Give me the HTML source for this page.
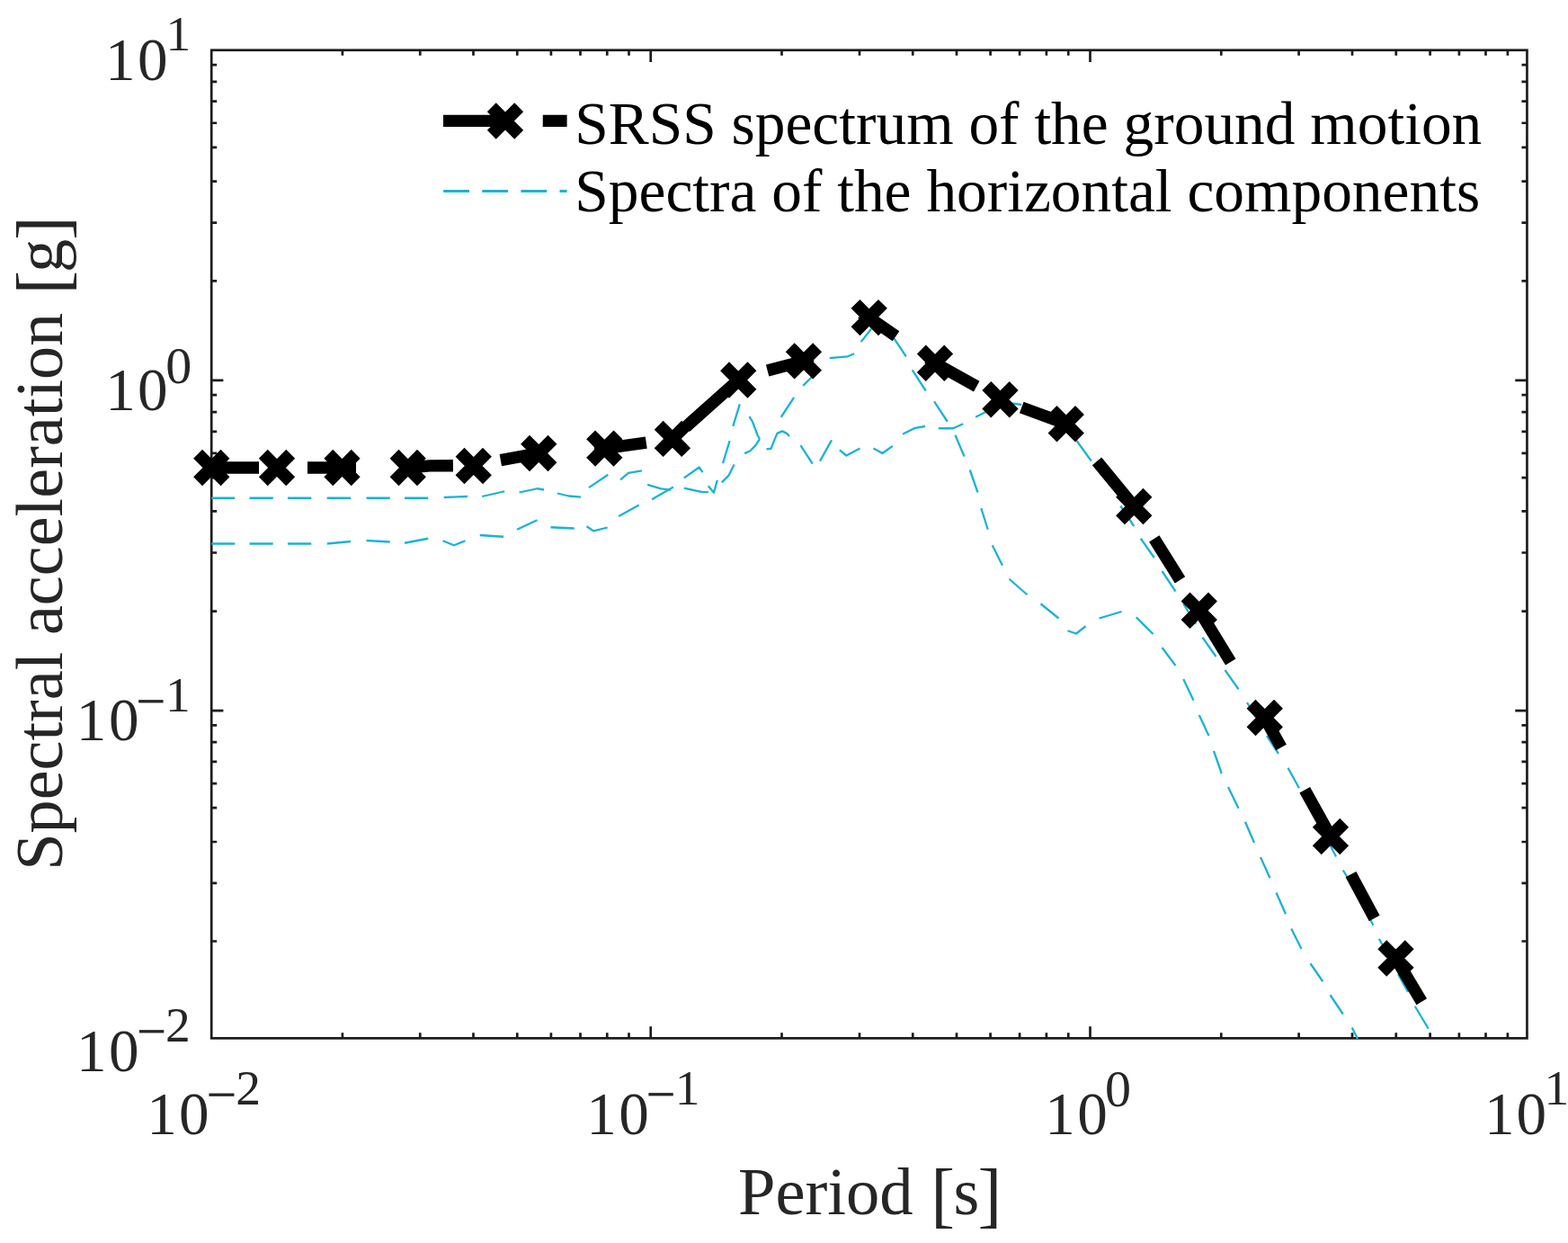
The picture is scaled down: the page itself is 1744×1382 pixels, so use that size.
<!DOCTYPE html>
<html lang="en"><head><meta charset="utf-8"><title>Response spectra</title>
<style>html,body{margin:0;padding:0;background:#fff}body{width:1744px;height:1382px;overflow:hidden}</style></head>
<body>
<svg width="1744" height="1382" viewBox="0 0 1744 1382" style="display:block">
<rect x="0" y="0" width="1744" height="1382" fill="#fff"/>
<g stroke="#1c1c1c" stroke-width="2.7" fill="none">
<rect x="235.2" y="55.75" width="1463.25" height="1098.6"/>
<path d="M723.75,1154.35 v-13.2 M723.75,55.75 v13.2 M1212.50,1154.35 v-13.2 M1212.50,55.75 v13.2 M380.90,1154.35 v-6.0 M380.90,55.75 v6.0 M467.25,1154.35 v-6.0 M467.25,55.75 v6.0 M526.50,1154.35 v-6.0 M526.50,55.75 v6.0 M575.25,1154.35 v-6.0 M575.25,55.75 v6.0 M612.90,1154.35 v-6.0 M612.90,55.75 v6.0 M645.50,1154.35 v-6.0 M645.50,55.75 v6.0 M675.25,1154.35 v-6.0 M675.25,55.75 v6.0 M699.50,1154.35 v-6.0 M699.50,55.75 v6.0 M869.50,1154.35 v-6.0 M869.50,55.75 v6.0 M956.00,1154.35 v-6.0 M956.00,55.75 v6.0 M1015.25,1154.35 v-6.0 M1015.25,55.75 v6.0 M1064.00,1154.35 v-6.0 M1064.00,55.75 v6.0 M1101.60,1154.35 v-6.0 M1101.60,55.75 v6.0 M1134.10,1154.35 v-6.0 M1134.10,55.75 v6.0 M1163.90,1154.35 v-6.0 M1163.90,55.75 v6.0 M1188.25,1154.35 v-6.0 M1188.25,55.75 v6.0 M1358.25,1154.35 v-6.0 M1358.25,55.75 v6.0 M1444.60,1154.35 v-6.0 M1444.60,55.75 v6.0 M1504.00,1154.35 v-6.0 M1504.00,55.75 v6.0 M1552.75,1154.35 v-6.0 M1552.75,55.75 v6.0 M1590.60,1154.35 v-6.0 M1590.60,55.75 v6.0 M1622.90,1154.35 v-6.0 M1622.90,55.75 v6.0 M1652.50,1154.35 v-6.0 M1652.50,55.75 v6.0 M1676.90,1154.35 v-6.0 M1676.90,55.75 v6.0 M235.2,422.94 h13.2 M1698.45,422.94 h-13.2 M235.2,790.10 h13.2 M1698.45,790.10 h-13.2 M235.2,72.16 h6.0 M1698.45,72.16 h-6.0 M235.2,90.94 h6.0 M1698.45,90.94 h-6.0 M235.2,112.60 h6.0 M1698.45,112.60 h-6.0 M235.2,136.76 h6.0 M1698.45,136.76 h-6.0 M235.2,163.90 h6.0 M1698.45,163.90 h-6.0 M235.2,201.70 h6.0 M1698.45,201.70 h-6.0 M235.2,247.55 h6.0 M1698.45,247.55 h-6.0 M235.2,312.30 h6.0 M1698.45,312.30 h-6.0 M235.2,439.10 h6.0 M1698.45,439.10 h-6.0 M235.2,458.20 h6.0 M1698.45,458.20 h-6.0 M235.2,479.80 h6.0 M1698.45,479.80 h-6.0 M235.2,503.90 h6.0 M1698.45,503.90 h-6.0 M235.2,531.10 h6.0 M1698.45,531.10 h-6.0 M235.2,568.40 h6.0 M1698.45,568.40 h-6.0 M235.2,614.50 h6.0 M1698.45,614.50 h-6.0 M235.2,679.60 h6.0 M1698.45,679.60 h-6.0 M235.2,806.40 h6.0 M1698.45,806.40 h-6.0 M235.2,825.20 h6.0 M1698.45,825.20 h-6.0 M235.2,846.80 h6.0 M1698.45,846.80 h-6.0 M235.2,871.10 h6.0 M1698.45,871.10 h-6.0 M235.2,898.20 h6.0 M1698.45,898.20 h-6.0 M235.2,936.00 h6.0 M1698.45,936.00 h-6.0 M235.2,981.80 h6.0 M1698.45,981.80 h-6.0 M235.2,1046.50 h6.0 M1698.45,1046.50 h-6.0"/>
</g>
<clipPath id="ax"><rect x="235.1" y="55.8" width="1466.1" height="1101.4"/></clipPath>
<g clip-path="url(#ax)" fill="none" stroke="#1db2d4" stroke-width="2.3" stroke-linejoin="round">
<path d="M235.00,553.75 L261.25,553.75 M277.50,553.75 L303.75,553.75 M320.00,553.75 L346.25,553.75 M363.75,553.75 L390.00,553.75 M407.50,553.75 L433.75,553.75 M450.00,553.75 L476.25,553.75 M493.75,553.00 L520.00,552.00 M536.25,552.00 L561.25,546.25 M577.50,547.50 L597.50,543.25 L605.00,544.50 M620.00,548.50 L632.50,551.50 L646.00,552.70 M235.00,604.50 L261.25,604.50 M277.50,604.50 L303.75,604.50 M320.00,604.50 L346.25,604.50 M363.75,604.50 L390.00,602.00 M407.50,601.00 L433.75,602.50 M450.00,603.75 L476.25,598.75 M492.50,601.25 L505.00,606.25 L517.50,601.25 M533.75,595.00 L560.00,596.75 M575.00,588.75 L597.50,578.25 M612.50,586.25 L638.75,587.50 M655.00,542.10 L676.30,527.70 M690.10,533.30 L698.90,525.80 L713.90,523.30 M720.10,538.90 L735.20,543.30 L746.40,544.60 M652.50,585.30 L660.00,590.30 L675.70,586.50 M688.20,574.00 L710.70,561.50 M725.10,555.20 L748.90,541.40 M760.80,531.40 L777.70,519.50 L781.50,525.20 M760.80,542.70 L781.50,547.10 L787.80,547.10 M787.80,540.20 L794.00,547.70 L797.80,533.90 M802.80,536.40 L810.30,528.90 L816.60,516.40 M804.00,515.10 L811.60,490.10 M815.30,473.80 L822.80,449.40 M833.40,463.10 L836.90,468.75 L840.00,476.90 L842.50,483.75 L845.00,488.10 M828.10,504.10 L834.40,501.25 L840.00,495.60 L845.00,488.10 M852.50,499.40 L857.50,498.75 L861.25,489.40 L864.40,481.90 L870.00,479.40 L875.00,481.90 L878.10,485.00 M868.75,463.75 L883.10,441.90 M890.40,495.20 L903.75,515.60 M912.00,512.60 L925.00,489.40 M893.20,428.90 L902.60,419.50 M922.70,398.20 L942.70,396.30 L950.20,393.20 M957.70,380.10 L969.00,365.70 M992.80,373.80 L1007.80,396.30 M1014.70,411.40 L1029.70,434.50 M1039.10,446.40 L1053.75,468.75 M933.90,500.30 L941.40,506.50 L956.50,498.40 M971.50,498.40 L981.50,504.00 L992.80,495.90 M1004.00,482.70 L1017.80,475.90 L1029.10,474.00 M1043.75,476.25 L1060.00,476.25 L1071.25,471.25 M1062.50,483.75 L1072.50,507.50 M1078.75,522.50 L1087.50,547.50 M1091.25,565.00 L1098.75,588.75 M1103.75,606.25 L1115.00,628.75 M1122.50,643.75 L1142.50,661.25 M1157.50,671.25 L1177.50,687.50 M1187.50,701.25 L1197.00,704.50 L1207.50,696.25 M1222.50,687.50 L1247.50,680.00 M1263.75,686.25 L1282.50,705.00 M1292.50,720.00 L1307.50,740.00 M1316.25,755.00 L1327.50,778.75 M1333.75,795.00 L1344.50,818.00 M1350.00,835.00 L1358.75,860.00 M1366.00,875.00 L1377.50,898.75 M1385.00,913.75 L1395.00,937.00 M1402.00,953.00 L1412.50,976.25 M1419.50,992.50 L1430.00,1016.25 M1436.25,1032.50 L1447.50,1055.00 M1457.50,1071.25 L1471.25,1091.25 M1479.50,1106.25 L1493.75,1127.50 M1503.75,1142.50 L1510.00,1155.00 M1085.00,463.75 L1095.00,458.75 L1105.00,454.00 M1120.00,449.00 L1127.50,448.75 L1136.25,450.00 M1197.50,490.00 L1213.75,512.50 M1246.25,562.50 L1261.25,585.00 M1268.75,598.75 L1283.75,620.00 M1292.50,635.00 L1307.50,657.50 M1316.25,671.25 L1330.00,694.00 M1337.50,708.75 L1352.50,730.00 M1362.50,745.00 L1377.50,766.25 M1387.00,781.00 L1400.00,803.00 M1409.00,818.00 L1422.00,838.00 M1432.50,853.75 L1445.00,876.25 M1454.00,892.00 L1466.00,915.00 M1475.00,931.00 L1486.00,952.50 M1493.75,967.50 L1506.00,987.00 M1515.00,1005.00 L1527.50,1028.75 M1533.75,1043.75 L1546.00,1065.00 M1555.00,1083.00 L1566.00,1103.00 M1573.75,1118.75 L1588.75,1143.75"/>
</g>
<g clip-path="url(#ax)" fill="none" stroke="#000" stroke-width="13.4">
<path d="M235.30,520.00 L288.00,520.00 M342.00,520.00 L380.50,520.00 L396.00,520.00 M448.50,520.00 L453.75,520.00 L478.00,517.90 L503.90,517.70 M556.80,511.60 L599.25,504.00 L609.00,503.28 M661.00,499.44 L672.30,498.60 L718.75,492.03 M762.50,474.88 L821.25,422.50 L823.00,421.99 M853.60,412.00 L893.90,401.40 L902.00,396.03 M958.00,358.87 L966.70,353.10 L996.50,373.69 M1032.00,398.22 L1040.00,403.75 L1086.25,429.59 M1136.25,453.00 L1185.75,471.25 L1188.00,473.98 M1220.00,512.87 L1261.25,563.00 L1262.00,564.20 M1283.75,598.92 L1312.50,644.82 M1333.75,678.75 L1368.75,735.92 M1406.75,798.00 L1425.00,830.89 M1451.25,878.19 L1480.00,930.00 M1502.50,972.05 L1528.70,1021.02 M1552.50,1065.50 L1581.25,1113.75"/>
</g>
<path stroke="#000" stroke-width="14" fill="none" d="M220.10,504.80 L250.50,535.20 M220.10,535.20 L250.50,504.80 M292.80,504.80 L323.20,535.20 M292.80,535.20 L323.20,504.80 M365.30,504.80 L395.70,535.20 M365.30,535.20 L395.70,504.80 M438.55,504.80 L468.95,535.20 M438.55,535.20 L468.95,504.80 M511.55,502.80 L541.95,533.20 M511.55,533.20 L541.95,502.80 M584.05,488.80 L614.45,519.20 M584.05,519.20 L614.45,488.80 M657.10,483.40 L687.50,513.80 M657.10,513.80 L687.50,483.40 M732.70,472.70 L763.10,503.10 M732.70,503.10 L763.10,472.70 M806.05,407.30 L836.45,437.70 M806.05,437.70 L836.45,407.30 M878.70,386.20 L909.10,416.60 M878.70,416.60 L909.10,386.20 M951.50,337.90 L981.90,368.30 M951.50,368.30 L981.90,337.90 M1024.80,388.55 L1055.20,418.95 M1024.80,418.95 L1055.20,388.55 M1097.30,429.05 L1127.70,459.45 M1097.30,459.45 L1127.70,429.05 M1170.55,456.05 L1200.95,486.45 M1170.55,486.45 L1200.95,456.05 M1246.05,547.80 L1276.45,578.20 M1246.05,578.20 L1276.45,547.80 M1318.55,663.55 L1348.95,693.95 M1318.55,693.95 L1348.95,663.55 M1391.55,782.80 L1421.95,813.20 M1391.55,813.20 L1421.95,782.80 M1464.80,914.80 L1495.20,945.20 M1464.80,945.20 L1495.20,914.80 M1537.30,1050.30 L1567.70,1080.70 M1537.30,1080.70 L1567.70,1050.30"/>
<g font-family="'Liberation Serif', serif" fill="#262626">
<text x="163.19 199.10" y="1261.1" font-size="67.2">10</text>
<text transform="translate(229.50,1238.50) scale(1.0843,1.1940)" font-size="55.5">−</text>
<text x="262.24" y="1228.4" font-size="55.5">2</text>
<text x="652.19 688.20" y="1261.1" font-size="67.2">10</text>
<text transform="translate(718.57,1238.60) scale(1.0610,1.1940)" font-size="55.5">−</text>
<text x="750.78" y="1228.3" font-size="55.5">1</text>
<text x="1162.19 1198.20" y="1261.1" font-size="67.2">10</text>
<text x="1229.10" y="1230.0" font-size="58.0">0</text>
<text x="1650.99 1686.50" y="1261.1" font-size="67.2">10</text>
<text x="1717.58" y="1228.3" font-size="55.5">1</text>
<text x="116.89 152.90" y="88.9" font-size="67.2">10</text>
<text x="184.38" y="56.2" font-size="55.5">1</text>
<text x="117.29 153.00" y="456.2" font-size="67.2">10</text>
<text x="184.20" y="425.6" font-size="58.0">0</text>
<text x="84.69 121.00" y="823.1" font-size="67.2">10</text>
<text transform="translate(151.37,801.50) scale(1.0610,1.1940)" font-size="55.5">−</text>
<text x="184.08" y="791.1" font-size="55.5">1</text>
<text x="84.89 120.90" y="1190.6" font-size="67.2">10</text>
<text transform="translate(151.97,1168.50) scale(1.0610,1.1940)" font-size="55.5">−</text>
<text x="184.04" y="1158.1" font-size="55.5">2</text>
<text y="1350" font-size="74.6"><tspan x="820.9">Period</tspan> <tspan x="1035.3" dy="5" font-size="80.3">[</tspan><tspan x="1060.4" dy="-5" font-size="73.9">s</tspan><tspan x="1087.6" dy="5" font-size="80.3">]</tspan></text>
<text transform="translate(68.8,967.7) rotate(-90)" font-size="74.2"><tspan x="0" y="0">Spectral acceleration</tspan> <tspan x="640.2" dy="5" font-size="80.3">[</tspan><tspan x="664.8" dy="-5">g</tspan><tspan x="700.7" dy="5" font-size="80.3">]</tspan></text>
</g>
<g font-family="'Liberation Serif', serif" fill="#000" font-size="67.4">
<text x="639.3" y="159.7">SRSS spectrum of the ground motion</text>
<text x="639.3" y="235.4">Spectra of the horizontal components</text>
</g>
<path d="M493,134.4 H568 M603.75,134.4 H630.6" stroke="#000" stroke-width="13.4" fill="none"/>
<path stroke="#000" stroke-width="14" fill="none" d="M546.80,119.30 L577.20,149.70 M546.80,149.70 L577.20,119.30"/>
<path d="M493.2,212.5 H630.6" stroke="#1db2d4" stroke-width="2.8" stroke-dasharray="28.8 14.3" fill="none"/>
</svg>
</body></html>
